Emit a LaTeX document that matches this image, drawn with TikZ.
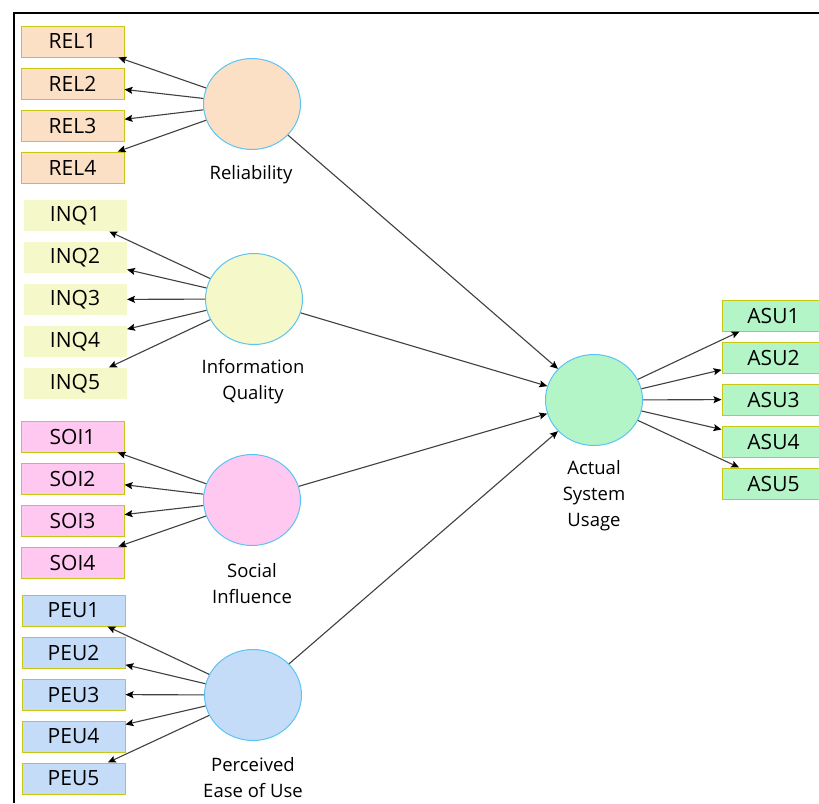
\documentclass[tikz,border=0pt]{standalone}
\usepackage{fontspec}
\setmainfont{Open Sans}
\usetikzlibrary{arrows.meta,shapes.geometric}
\definecolor{relfill}{HTML}{FCE0C6}
\definecolor{inqfill}{HTML}{F5F8C8}
\definecolor{soifill}{HTML}{FFC8F0}
\definecolor{peufill}{HTML}{C4DCF8}
\definecolor{asufill}{HTML}{B4F5C8}
\definecolor{boxedge}{HTML}{C8C814}
\definecolor{circedge}{HTML}{5CC4F2}
\definecolor{linkgray}{HTML}{404040}
\tikzset{
  indicator/.style={rectangle, minimum width=103pt, minimum height=31pt, inner sep=0pt,
    draw=boxedge, line width=1pt, font=\fontsize{21}{21}\selectfont},
  construct/.style={ellipse, minimum width=97pt, minimum height=91pt, inner sep=0pt,
    draw=circedge, line width=1pt},
  cname/.style={align=center, font=\fontsize{18.5}{26}\selectfont},
  link/.style={draw=linkgray, line width=1.1pt, -{Stealth[length=8pt,width=7pt,inset=1.5pt,black]}},
}
\begin{document}
\begin{tikzpicture}[x=1pt,y=-1pt]
\useasboundingbox (0,0) rectangle (819,803);
\fill[white] (0,0) rectangle (819,803);
% outer frame
\draw[line width=2pt] (14,803) -- (14,13) -- (830,13);

% latent constructs
\node[construct, fill=relfill] (rel) at (252,104) {};
\node[construct, fill=inqfill] (inq) at (254,299) {};
\node[construct, fill=soifill] (soi) at (252,500) {};
\node[construct, fill=peufill] (peu) at (253,695) {};
\node[construct, fill=asufill] (asu) at (594,400) {};

\node[cname] (relname) at (251,175) {Reliability};
\node[cname] (inqname) at (253,382) {Information\\Quality};
\node[cname] (soiname) at (252,584) {Social\\Influence};
\node[cname] (peuname) at (253,778) {Perceived\\Ease of Use};
\node[cname] (asuname) at (594,496) {Actual\\System\\Usage};

% indicators
\foreach \i/\y in {1/41.5,2/83.5,3/125.5,4/167.5}
  \node[indicator, fill=relfill] (rel\i) at (72.5,\y) {REL\i};
\foreach \i/\y in {1/215.5,2/257.5,3/299.5,4/341.5,5/383.5}
  \node[indicator, fill=inqfill, draw=none] (inq\i) at (75,\y) {INQ\i};
\foreach \i/\y in {1/436.5,2/478.5,3/520.5,4/562.5}
  \node[indicator, fill=soifill] (soi\i) at (72.5,\y) {SOI\i};
\foreach \i/\y in {1/610.5,2/652.5,3/694.5,4/736.5,5/778.5}
  \node[indicator, fill=peufill] (peu\i) at (73.5,\y) {PEU\i};
\foreach \i/\y in {1/315.5,2/357.5,3/399.5,4/441.5,5/483.5}
  \node[indicator, fill=asufill] (asu\i) at (773.5,\y) {ASU\i};

% measurement links
\foreach \i in {1,...,4} \draw[link] (rel) -- (rel\i);
\foreach \i in {1,...,5} \draw[link] (inq) -- (inq\i);
\foreach \i in {1,...,4} \draw[link] (soi) -- (soi\i);
\foreach \i in {1,...,5} \draw[link] (peu) -- (peu\i);
\foreach \i in {1,...,5} \draw[link] (asu) -- (asu\i);

% structural paths
\draw[link] (rel) -- (asu);
\draw[link] (inq) -- (asu);
\draw[link] (soi) -- (asu);
\draw[link] (peu) -- (asu);
\end{tikzpicture}
\end{document}
